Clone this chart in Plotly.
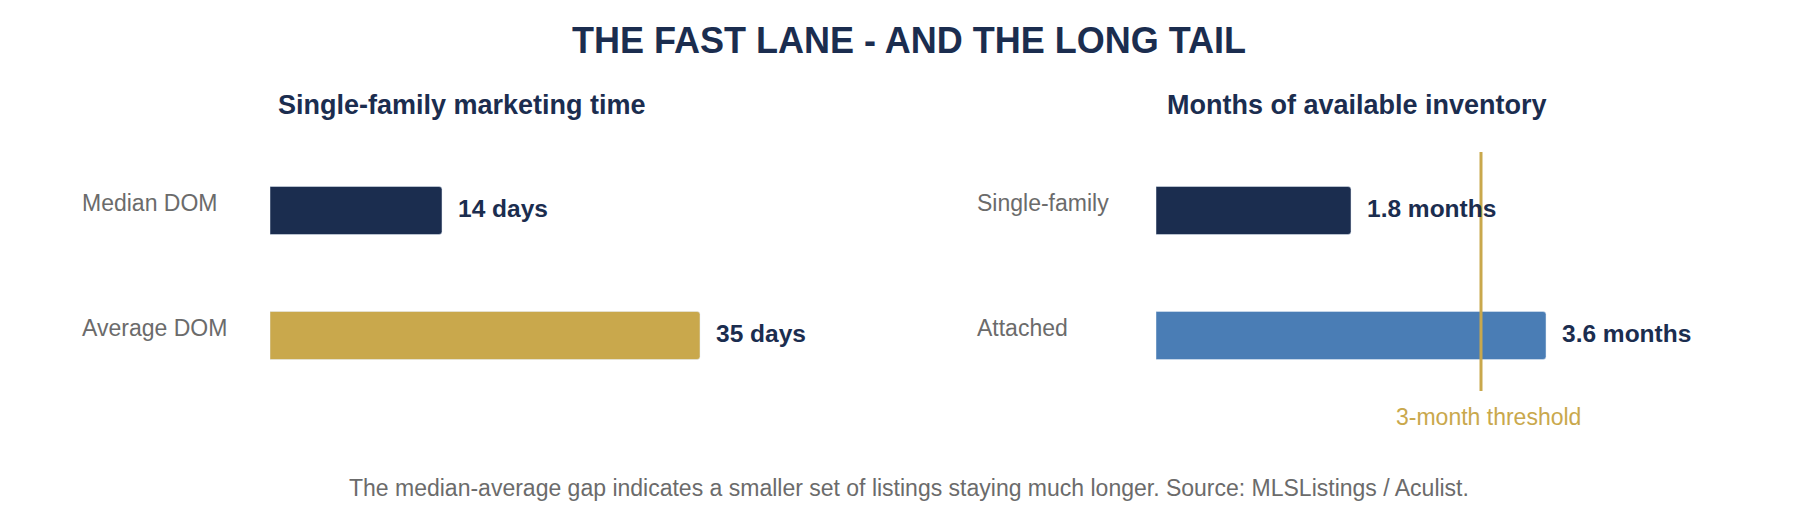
import plotly.graph_objects as go

# Target page size and the default 8px body margin of the written HTML page
PAGE_W, PAGE_H = 1818, 520
M = 8
W, H = PAGE_W - 2 * M, PAGE_H - 2 * M

NAVY = "#1B2D4F"
GOLD = "#C9A84C"
BLUE = "#4A7DB5"
GRAY = "#6B6B6B"
FONT = "Liberation Sans, Arial, sans-serif"

title_text = "THE FAST LANE - AND THE LONG TAIL"
left_title = "Single-family marketing time"
right_title = "Months of available inventory"
footer_text = ("The median-average gap indicates a smaller set of listings staying much longer. "
               "Source: MLSListings / Aculist.")

dom_labels = ["Median DOM", "Average DOM"]
dom_values = [14, 35]
dom_text = ["14 days", "35 days"]
dom_colors = [NAVY, GOLD]

inv_labels = ["Single-family", "Attached"]
inv_values = [1.8, 3.6]
inv_text = ["1.8 months", "3.6 months"]
inv_colors = [NAVY, BLUE]

threshold = 3
threshold_label = "3-month threshold"


def px(x):
    """page pixel x -> paper fraction"""
    return (x - M) / W


def py(y):
    """page pixel y (from top) -> paper fraction"""
    return 1 - (y - M) / H


fig = go.Figure()
fig.add_trace(go.Bar(orientation="h", y=dom_labels, x=dom_values, marker_color=dom_colors,
                     width=0.384, xaxis="x", yaxis="y", hoverinfo="skip"))
fig.add_trace(go.Bar(orientation="h", y=inv_labels, x=inv_values, marker_color=inv_colors,
                     width=0.384, xaxis="x2", yaxis="y2", hoverinfo="skip"))

axis_off = dict(showticklabels=False, showgrid=False, zeroline=False, showline=False, ticks="")
fig.update_layout(
    width=W, height=H,
    margin=dict(l=0, r=0, t=0, b=0),
    paper_bgcolor="white", plot_bgcolor="white",
    showlegend=False,
    barcornerradius=3,
    font=dict(family=FONT),
    xaxis=dict(domain=[px(270), px(786)], range=[0, 42], **axis_off),
    yaxis=dict(domain=[py(398), py(148)], range=[1.5, -0.5], type="category",
               categoryarray=dom_labels, anchor="x", **axis_off),
    xaxis2=dict(domain=[px(1156), px(1611)], range=[0, 4.2], anchor="y2", **axis_off),
    yaxis2=dict(domain=[py(398), py(148)], range=[1.5, -0.5], type="category",
                categoryarray=inv_labels, anchor="x2", **axis_off),
)

ann = []
# Titles
ann.append(dict(text=title_text, x=px(909), y=py(40), xref="paper", yref="paper",
                xanchor="center", yanchor="middle", showarrow=False,
                font=dict(size=36, color=NAVY, family=FONT, weight="bold")))
ann.append(dict(text=left_title, x=px(462), y=py(105), xref="paper", yref="paper",
                xanchor="center", yanchor="middle", showarrow=False,
                font=dict(size=27, color=NAVY, family=FONT, weight="bold")))
ann.append(dict(text=right_title, x=px(1357), y=py(105), xref="paper", yref="paper",
                xanchor="center", yanchor="middle", showarrow=False,
                font=dict(size=27, color=NAVY, family=FONT, weight="bold")))

# Category and value labels
for labels, values, texts, xr, yr, lx in [
    (dom_labels, dom_values, dom_text, "x", "y", 80),
    (inv_labels, inv_values, inv_text, "x2", "y2", 975),
]:
    for lab, val, txt in zip(labels, values, texts):
        ann.append(dict(text=lab, x=px(lx), y=lab, xref="paper", yref=yr,
                        xanchor="left", yanchor="middle", yshift=8, showarrow=False,
                        font=dict(size=23, color=GRAY, family=FONT)))
        ann.append(dict(text=txt, x=val, y=lab, xref=xr, yref=yr,
                        xanchor="left", yanchor="middle", xshift=14, yshift=2, showarrow=False,
                        font=dict(size=24.5, color=NAVY, family=FONT, weight="bold")))

# Threshold
ann.append(dict(text=threshold_label, x=threshold, y=py(417), xref="x2", yref="paper",
                xanchor="center", yanchor="middle", xshift=7, showarrow=False,
                font=dict(size=23, color=GOLD, family=FONT)))
# Footer
ann.append(dict(text=footer_text, x=px(909), y=py(488), xref="paper", yref="paper",
                xanchor="center", yanchor="middle", showarrow=False,
                font=dict(size=23, color=GRAY, family=FONT)))

fig.update_layout(annotations=ann)
fig.add_shape(type="line", xref="x2", yref="paper", x0=threshold, x1=threshold,
              y0=py(391), y1=py(152), line=dict(color=GOLD, width=3))

fig.write_html("out.html")
